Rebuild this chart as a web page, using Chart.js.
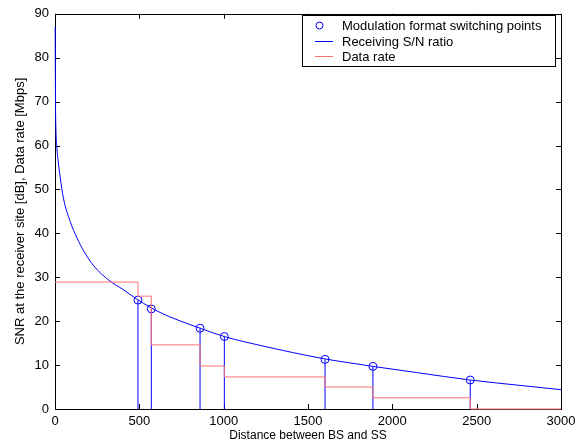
<!DOCTYPE html>
<html>
<head>
<meta charset="utf-8">
<script src="https://cdn.jsdelivr.net/npm/chart.js@4"></script>
<style>
  html, body { margin: 0; padding: 0; background: #fff; }
  #wrap { width: 582px; height: 443px; position: relative; }
</style>
</head>
<body>
<div id="wrap"><canvas id="snrChart" width="582" height="443"></canvas></div>
<script>
// Receiving S/N ratio curve
const curveX = [1, 3, 6, 10, 20, 30, 50, 90, 130, 170, 230, 320, 400, 490, 622, 860, 1004, 1215, 1601, 1749, 1885, 2144, 2462, 2777, 3000];
const curveY = [87, 70, 63, 60, 56, 53, 48, 42.7, 39, 36, 32.6, 29.3, 27.3, 24.9, 22.0, 18.4, 16.5, 14.5, 11.4, 10.5, 9.7, 8.3, 6.6, 5.3, 4.4];

// Modulation format switching points
const switchX = [492, 571, 860, 1004, 1601, 1885, 2462];
const switchY = [24.8, 22.8, 18.4, 16.5, 11.3, 9.7, 6.6];

// Data rate steps [Mbps]
const rateX = [0, 492, 571, 860, 1004, 1601, 1885, 2462, 3000];
const rateY = [28.9, 25.7, 14.6, 9.8, 7.3, 5.0, 2.55, 0, 0];

const xTicks = [0, 500, 1000, 1500, 2000, 2500, 3000];
const yTicks = [0, 10, 20, 30, 40, 50, 60, 70, 80, 90];

const FONT = 'Arial, "Liberation Sans", sans-serif';

// stems from the axis up to each switching point
var stems = [];
switchX.forEach(function(x, i) {
  stems.push({x: x, y: 0});
  stems.push({x: x, y: switchY[i]});
  stems.push({x: x, y: null});
});

// box + inward ticks, matlab style (drawn under the data lines)
const framePlugin = {
  id: 'frame',
  beforeDatasetsDraw: function(chart) {
    const ctx = chart.ctx;
    const a = chart.chartArea;
    const xs = chart.scales.x, ys = chart.scales.y;
    ctx.save();
    ctx.strokeStyle = '#000';
    ctx.lineWidth = 1;
    ctx.beginPath();
    xTicks.forEach(function(v) {
      const px = Math.round(xs.getPixelForValue(v)) + 0.5;
      ctx.moveTo(px, a.bottom); ctx.lineTo(px, a.bottom - 5);
      ctx.moveTo(px, a.top); ctx.lineTo(px, a.top + 5);
    });
    yTicks.forEach(function(v) {
      const py = Math.round(ys.getPixelForValue(v)) + 0.5;
      ctx.moveTo(a.left, py); ctx.lineTo(a.left + 5, py);
      ctx.moveTo(a.right, py); ctx.lineTo(a.right - 5, py);
    });
    ctx.stroke();
    ctx.strokeRect(Math.round(a.left) + 0.5, Math.round(a.top) + 0.5,
                   Math.round(a.right - a.left), Math.round(a.bottom - a.top));
    ctx.restore();
  }
};

// legend box in the top right corner
const legendPlugin = {
  id: 'boxLegend',
  afterDraw: function(chart) {
    const ctx = chart.ctx;
    const bx = 302, by = 15, bw = 253, bh = 51;
    ctx.save();
    ctx.fillStyle = '#fff';
    ctx.fillRect(bx, by, bw, bh);
    ctx.strokeStyle = '#000';
    ctx.lineWidth = 1;
    ctx.strokeRect(bx + 0.5, by + 0.5, bw, bh);
    ctx.font = '13px ' + FONT;
    ctx.textBaseline = 'middle';
    const rows = [25.5, 41, 56];
    chart.data.datasets.forEach(function(ds) {
      if (ds.legendHide) return;
      const y = rows[ds.legendRow];
      ctx.strokeStyle = ds.borderColor;
      ctx.lineWidth = 1;
      ctx.beginPath();
      if (ds.showLine === false) {
        ctx.arc(319.5, y, 3.5, 0, Math.PI * 2);
      } else {
        ctx.moveTo(315, Math.round(y) + 0.5);
        ctx.lineTo(333, Math.round(y) + 0.5);
      }
      ctx.stroke();
      ctx.fillStyle = '#000';
      ctx.fillText(ds.label, 342, y + 1);
    });
    ctx.restore();
  }
};

var ctx = document.getElementById('snrChart').getContext('2d');
var snrChart = new Chart(ctx, {
  type: 'scatter',
  data: {
    datasets: [
      {
        label: 'Data rate',
        legendRow: 2,
        data: rateX.map(function(x, i) { return {x: x, y: rateY[i]}; }),
        showLine: true,
        stepped: 'before',
        clip: {left: 1, top: 0, right: 0, bottom: 1},
        borderColor: '#ff7070',
        borderWidth: 1,
        pointRadius: 0
      },
      {
        label: 'stems',
        legendHide: true,
        data: stems,
        showLine: true,
        spanGaps: false,
        borderColor: '#0000ff',
        borderWidth: 1,
        pointRadius: 0
      },
      {
        label: 'Receiving S/N ratio',
        legendRow: 1,
        data: curveX.map(function(x, i) { return {x: x, y: curveY[i]}; }),
        showLine: true,
        cubicInterpolationMode: 'monotone',
        clip: {left: 1, top: 0, right: 0, bottom: 0},
        borderColor: '#0000ff',
        borderWidth: 1,
        pointRadius: 0
      },
      {
        label: 'Modulation format switching points',
        legendRow: 0,
        data: switchX.map(function(x, i) { return {x: x, y: switchY[i]}; }),
        showLine: false,
        borderColor: '#0000ff',
        backgroundColor: 'rgba(0,0,0,0)',
        borderWidth: 1,
        pointRadius: 4,
        pointStyle: 'circle'
      }
    ]
  },
  options: {
    responsive: false,
    animation: false,
    layout: { padding: { left: 0, right: 21, top: 11, bottom: 0 } },
    plugins: {
      legend: { display: false },
      tooltip: { enabled: false }
    },
    scales: {
      x: {
        type: 'linear',
        min: 0, max: 3000,
        afterFit: function(s) { s.height = 34; },
        afterBuildTicks: function(s) { s.ticks = xTicks.map(function(v) { return {value: v}; }); },
        grid: { display: false, drawTicks: false },
        border: { display: false },
        ticks: {
          color: '#000', padding: 5, maxRotation: 0,
          font: { family: FONT, size: 13 },
          callback: function(v) { return String(v); }
        },
        title: {
          display: true,
          text: 'Distance between BS and SS',
          color: '#000',
          padding: { top: 0, bottom: 0 },
          font: { family: FONT, size: 12 }
        }
      },
      y: {
        min: 0, max: 90,
        afterFit: function(s) { s.width = 55; },
        afterBuildTicks: function(s) { s.ticks = yTicks.map(function(v) { return {value: v}; }); },
        grid: { display: false, drawTicks: false },
        border: { display: false },
        ticks: {
          color: '#000', padding: 6,
          font: { family: FONT, size: 13 },
          callback: function(v) { return String(v); }
        },
        title: {
          display: true,
          text: 'SNR at the receiver site [dB], Data rate [Mbps]',
          color: '#000',
          padding: { top: 13, bottom: 0 },
          font: { family: FONT, size: 13 }
        }
      }
    }
  },
  plugins: [framePlugin, legendPlugin]
});
</script>
</body>
</html>
